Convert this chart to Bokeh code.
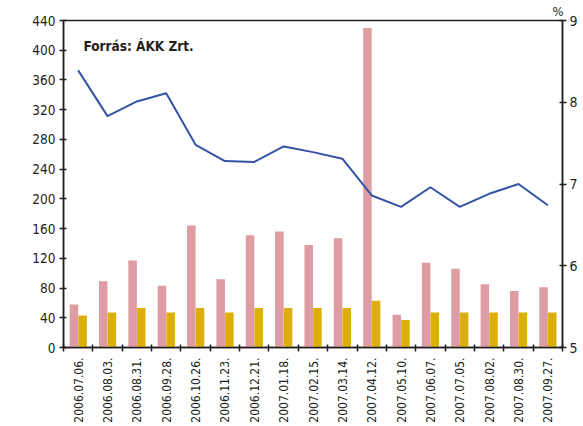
import math
from bokeh.plotting import figure
from bokeh.models import Range1d, LinearAxis, FixedTicker, Label, ColumnDataSource, Title
from bokeh.transform import dodge
from bokeh.embed import file_html
from bokeh.resources import INLINE

dates = ["2006.07.06.", "2006.08.03.", "2006.08.31.", "2006.09.28.", "2006.10.26.",
         "2006.11.23.", "2006.12.21.", "2007.01.18.", "2007.02.15.", "2007.03.14.",
         "2007.04.12.", "2007.05.10.", "2007.06.07.", "2007.07.05.", "2007.08.02.",
         "2007.08.30.", "2007.09.27."]
pink_vals = [58, 89, 117, 83, 164, 92, 151, 156, 138, 147, 430, 44, 114, 106, 85, 76, 81]
yellow_vals = [43, 47, 53, 47, 53, 47, 53, 53, 53, 53, 63, 37, 47, 47, 47, 47, 47]
rate_vals = [8.39, 7.83, 8.01, 8.11, 7.48, 7.28, 7.27, 7.46, 7.39, 7.31,
             6.86, 6.72, 6.96, 6.72, 6.88, 7.00, 6.74]
left_ticks = list(range(0, 441, 40))
right_ticks = [5, 6, 7, 8, 9]

FONT = "DejaVu Sans Condensed"
DARK = "#231f20"
PINK = "#de9da2"
YELLOW = "#dcaf06"
BLUE = "#3553a5"

n = len(dates)
centers = [i + 0.5 for i in range(n)]
src = ColumnDataSource(dict(x=centers, pink=pink_vals, yellow=yellow_vals, rate=rate_vals))

p = figure(width=583, height=426, output_backend="svg", toolbar_location=None,
           x_range=Range1d(0, n), y_range=Range1d(0, 440),
           min_border_left=63, min_border_right=21, min_border_top=19, min_border_bottom=79)
p.extra_y_ranges = {"pct": Range1d(5, 9)}

p.grid.visible = False
p.outline_line_color = DARK
p.outline_line_width = 1.5
p.background_fill_color = "white"
p.border_fill_color = "white"

p.vbar(x=dodge("x", -0.145, range=p.x_range), top="pink", width=0.29, source=src,
       fill_color=PINK, line_color=None)
p.vbar(x=dodge("x", 0.15, range=p.x_range), top="yellow", width=0.29, source=src,
       fill_color=YELLOW, line_color=None)
p.line(x="x", y="rate", source=src, y_range_name="pct", line_color=BLUE, line_width=2)

# x axis
xa = p.xaxis[0]
xa.ticker = FixedTicker(ticks=centers, minor_ticks=list(range(0, n + 1)))
xa.major_label_overrides = {c: d for c, d in zip(centers, dates)}
xa.major_label_orientation = math.pi / 2
xa.major_tick_in = 0
xa.major_tick_out = 0
xa.minor_tick_in = 3
xa.minor_tick_out = 4
xa.minor_tick_line_color = DARK
xa.minor_tick_line_width = 1.5
xa.axis_line_color = DARK
xa.axis_line_width = 1.5
xa.major_label_text_font = FONT
xa.major_label_text_font_size = "12px"
xa.major_label_text_color = DARK
xa.major_label_standoff = 6

# left axis
ya = p.yaxis[0]
ya.ticker = FixedTicker(ticks=left_ticks)
ya.minor_tick_line_color = None
ya.major_tick_in = 3
ya.major_tick_out = 4
ya.major_tick_line_color = DARK
ya.major_tick_line_width = 1.5
ya.axis_line_color = DARK
ya.axis_line_width = 1.5
ya.major_label_text_font = FONT
ya.major_label_text_font_size = "13.5px"
ya.major_label_text_color = DARK
ya.major_label_standoff = 4

# right axis
ra = LinearAxis(y_range_name="pct", ticker=FixedTicker(ticks=right_ticks))
ra.minor_tick_line_color = None
ra.major_tick_in = 3
ra.major_tick_out = 4
ra.major_tick_line_color = DARK
ra.major_tick_line_width = 1.5
ra.axis_line_color = DARK
ra.axis_line_width = 1.5
ra.major_label_text_font = FONT
ra.major_label_text_font_size = "14px"
ra.major_label_text_color = DARK
ra.major_label_standoff = 3
p.add_layout(ra, "right")

# "%" unit label above the right axis
p.add_layout(Title(text="%", align="right", text_font=FONT, text_font_size="13px",
                   text_font_style="normal", text_color=DARK, standoff=3, offset=-1),
             "above")

p.add_layout(Label(x=-1.53, y=245, text="Milliárd forint", angle=math.pi / 2,
                   text_align="center", text_baseline="middle",
                   text_font=FONT, text_font_size="13px", text_color=DARK))
p.add_layout(Label(x=0.68, y=416, text="Forrás:  ÁKK Zrt.",
                   text_align="left", text_baseline="top",
                   text_font=FONT, text_font_size="13.5px", text_font_style="bold",
                   text_color=DARK))

open("out.html", "w").write(file_html(p, INLINE))
